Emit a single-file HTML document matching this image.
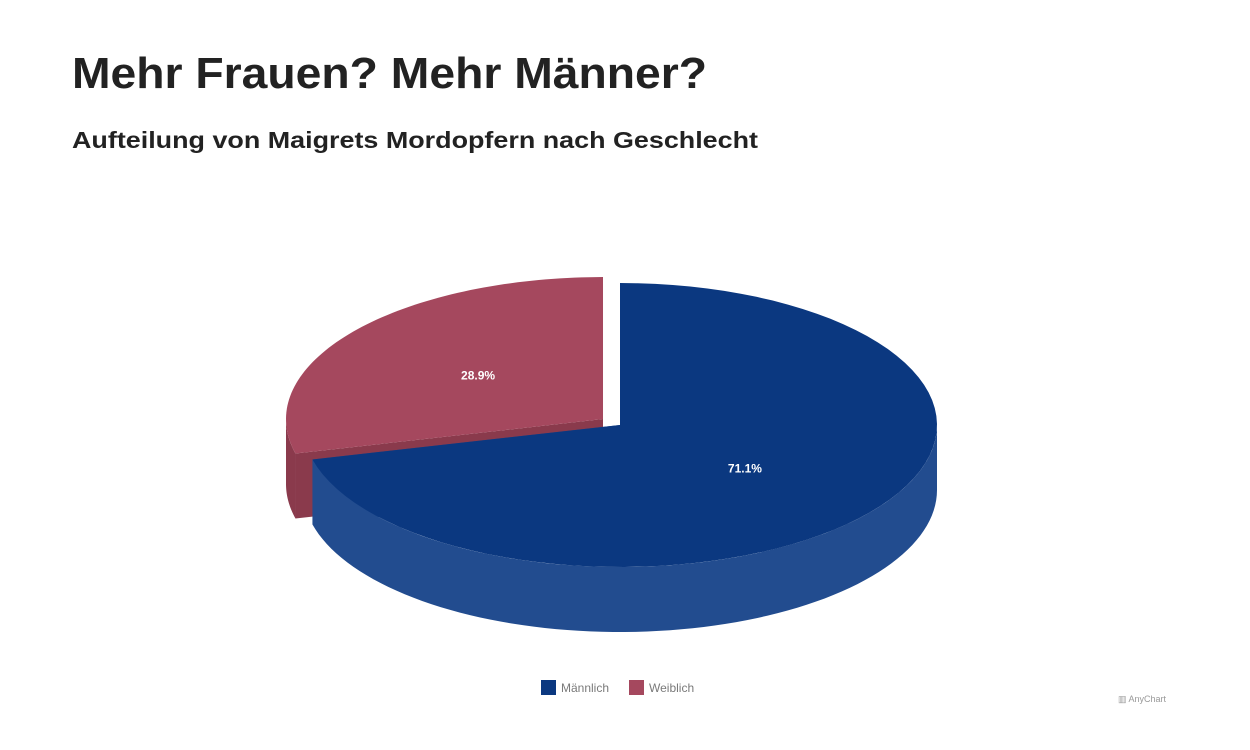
<!DOCTYPE html>
<html><head><meta charset="utf-8"><style>
html,body{margin:0;padding:0;background:#fff;}
svg{display:block;}
</style></head><body>
<svg width="1250" height="750" viewBox="0 0 1250 750" xmlns="http://www.w3.org/2000/svg">
<text x="72" y="88" font-family="Liberation Sans, sans-serif" font-weight="bold" font-size="44" fill="#222" textLength="635" lengthAdjust="spacingAndGlyphs">Mehr Frauen? Mehr Männer?</text>
<text x="72" y="148" font-family="Liberation Sans, sans-serif" font-weight="bold" font-size="23" fill="#222" textLength="686" lengthAdjust="spacingAndGlyphs">Aufteilung von Maigrets Mordopfern nach Geschlecht</text>
<g id="pie"></g>
<g>
<g><rect x="541" y="680" width="15" height="15" fill="#0b3880"/><text x="561" y="692" font-family="Liberation Sans, sans-serif" font-size="12" fill="#7a7a7a">Männlich</text></g>
<g><rect x="629" y="680" width="15" height="15" fill="#a5485e"/><text x="649" y="692" font-family="Liberation Sans, sans-serif" font-size="12" fill="#7a7a7a">Weiblich</text></g>
</g>
<text x="1118" y="702" font-family="Liberation Sans, sans-serif" font-size="9" fill="#999">▥ AnyChart</text>
</svg>
<script>
const categories = ["Männlich", "Weiblich"];
const values = [71.1, 28.9];
const topColors = ["#0b3880", "#a5485e"];
const sideColors = ["#224c8f", "#8a3a4c"];
const exploded = [false, true];

const cx = 620, cy = 425, rx = 317, ry = 142, depth = 65, explode = 0.068;
const NS = "http://www.w3.org/2000/svg";
const g = document.getElementById("pie");
const total = values.reduce((a, b) => a + b, 0);
function pt(a, ox, oy, dz) { return [ox + rx * Math.sin(a), oy - ry * Math.cos(a) + (dz || 0)]; }
function path(d, fill, name) {
  const p = document.createElementNS(NS, "path");
  p.setAttribute("d", d); p.setAttribute("fill", fill);
  
  
  return p;
}
function arcPts(a0, a1, ox, oy, dz) {
  const pts = []; const n = 80;
  for (let i = 0; i <= n; i++) { const a = a0 + (a1 - a0) * i / n; pts.push(pt(a, ox, oy, dz)); }
  return pts;
}
const slices = []; let acc = 0;
values.forEach((v, i) => {
  const a0 = acc / total * 2 * Math.PI; acc += v; const a1 = acc / total * 2 * Math.PI;
  const mid = (a0 + a1) / 2;
  const d = exploded[i] ? explode : 0;
  const ox = cx + rx * d * Math.sin(mid), oy = cy - ry * d * Math.cos(mid);
  slices.push({ i, a0, a1, mid, ox, oy });
});
const order = [1, 0];
order.forEach(k => {
  const s = slices[k];
  const grp = document.createElementNS(NS, "g");
  
  
  [s.a0, s.a1].forEach(a => {
    const e = pt(a, s.ox, s.oy);
    if (Math.sin(a) < -0.1 && Math.cos(a) < 0.5) {
      const d = `M${s.ox},${s.oy} L${e[0]},${e[1]} L${e[0]},${e[1] + depth} L${s.ox},${s.oy + depth} Z`;
      grp.appendChild(path(d, sideColors[k], "slice-cut-face"));
    }
  });
  const w0 = Math.max(s.a0, Math.PI / 2), w1 = Math.min(s.a1, 3 * Math.PI / 2);
  if (w1 > w0) {
    const top = arcPts(w0, w1, s.ox, s.oy, 0);
    const bot = arcPts(w1, w0, s.ox, s.oy, depth);
    const d = "M" + top.concat(bot).map(p => p.join(",")).join(" L") + " Z";
    grp.appendChild(path(d, sideColors[k], "slice-side-wall"));
  }
  const tp = arcPts(s.a0, s.a1, s.ox, s.oy, 0);
  const d = `M${s.ox},${s.oy} L` + tp.map(p => p.join(",")).join(" L") + " Z";
  grp.appendChild(path(d, topColors[k], "slice-top"));
  g.appendChild(grp);
});
slices.forEach(s => {
  const lp = [s.ox + rx * 0.5 * Math.sin(s.mid), s.oy - ry * 0.5 * Math.cos(s.mid) + 4];
  const t = document.createElementNS(NS, "text");
  t.setAttribute("x", lp[0]); t.setAttribute("y", lp[1]);
  t.setAttribute("text-anchor", "middle");
  t.setAttribute("font-family", "Liberation Sans, sans-serif");
  t.setAttribute("font-size", "12"); t.setAttribute("font-weight", "bold");
  t.setAttribute("fill", "#fff");
  
  
  t.textContent = values[s.i].toFixed(1) + "%";
  g.appendChild(t);
});
</script>
</body></html>
